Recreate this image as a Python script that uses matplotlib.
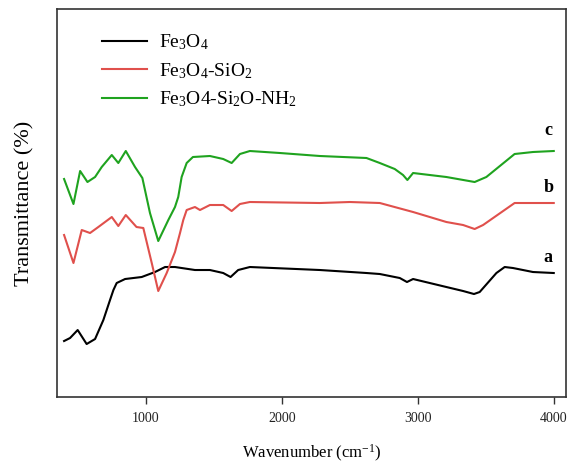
import matplotlib
matplotlib.use("Agg")
import matplotlib.pyplot as plt

plt.rcParams['font.family'] = ['Liberation Serif', 'DejaVu Serif']
plt.rcParams['mathtext.fontset'] = 'custom'
plt.rcParams['mathtext.rm'] = 'Liberation Serif'
plt.rcParams['mathtext.it'] = 'Liberation Serif:italic'
plt.rcParams['mathtext.bf'] = 'Liberation Serif:bold'

# ---- data (arbitrary transmittance units) ----
wn_c = [397, 466, 515, 569, 625, 674, 748, 796, 851, 919, 973, 1029, 1090, 1164, 1213, 1237, 1262,
        1299, 1345, 1470, 1568, 1630, 1691, 1764, 1985, 2279, 2622, 2720, 2830, 2891, 2923, 2965,
        3210, 3418, 3504, 3712, 3847, 4000]
t_c = [221, 196, 229, 218, 223, 233, 245, 237, 249, 233, 222, 187, 159, 180, 193, 203, 223, 237,
       243, 244, 241, 237, 246, 249, 247, 244, 242, 237, 231, 225, 220, 227, 223, 218, 223, 246,
       248, 249]

wn_b = [397, 466, 527, 588, 649, 748, 796, 851, 930, 980, 1042, 1090, 1152, 1213, 1250, 1274, 1299,
        1360, 1397, 1470, 1568, 1630, 1691, 1764, 2279, 2500, 2720, 2965, 3210, 3333, 3418, 3480,
        3712, 4000]
t_b = [165, 137, 170, 167, 173, 183, 174, 185, 173, 172, 137, 109, 127, 148, 167, 180, 190, 193,
       190, 195, 195, 189, 196, 198, 197, 198, 197, 188, 178, 175, 171, 175, 197, 197]

wn_a = [397, 441, 497, 563, 625, 686, 735, 760, 784, 846, 968, 1066, 1140, 1213, 1360, 1470, 1568,
        1622, 1678, 1764, 2279, 2622, 2720, 2867, 2920, 2965, 3210, 3333, 3413, 3455, 3578, 3639,
        3700, 3847, 4000]
t_a = [59, 62, 70, 56, 61, 80, 100, 110, 117, 121, 123, 128, 133, 133, 130, 130, 127, 123, 130,
       133, 130, 127, 126, 122, 118, 121, 113, 109, 106, 108, 127, 133, 132, 128, 127]

labels = ['Fe$_3$O$_4$', 'Fe$_3$O$_4$-SiO$_2$', 'Fe$_3$O4-Si$_2$O-NH$_2$']
colors = ['#000000', '#e0504c', '#1fa31f']
curve_tags = ['a', 'b', 'c']
xticks = [1000, 2000, 3000, 4000]

fig = plt.figure(figsize=(5.69, 4.63), dpi=100)
ax = fig.add_axes([0.1002, 0.1425, 0.8945, 0.837])

series = [(wn_a, t_a), (wn_b, t_b), (wn_c, t_c)]
for (w, t), col, lab in zip(series, colors, labels):
    ax.plot(w, t, color=col, lw=1.5, label=lab)

ax.set_xlim(345, 4090)
ax.set_ylim(3, 390.5)
ax.set_xticks(xticks)
ax.set_xticklabels([str(v) for v in xticks], fontsize=10)
ax.set_yticks([])
ax.tick_params(axis='x', direction='out', length=5, width=1, colors='#333333', labelcolor='#222222', pad=6)
for s in ax.spines.values():
    s.set_linewidth(1.2)
    s.set_color('#333333')

ax.set_xlabel('Wavenumber (cm$^{-1}$)', fontsize=12, labelpad=13)
ax.set_ylabel('Transmittance (%)', fontsize=16, labelpad=16)

# curve tags
tag_pos = [(wn_a[-1], t_a[-1] + 16), (wn_b[-1], t_b[-1] + 16), (wn_c[-1], t_c[-1] + 21)]
for tag, (x, y) in zip(curve_tags, tag_pos):
    ax.text(x - 40, y, tag, fontsize=13, fontweight='bold', ha='center', va='center')

ax.legend(loc='upper left', bbox_to_anchor=(0.07, 0.965), frameon=False, fontsize=14,
          handlelength=2.3, handletextpad=0.6, labelspacing=0.45, borderpad=0)

fig.savefig('out.png', dpi=100)
